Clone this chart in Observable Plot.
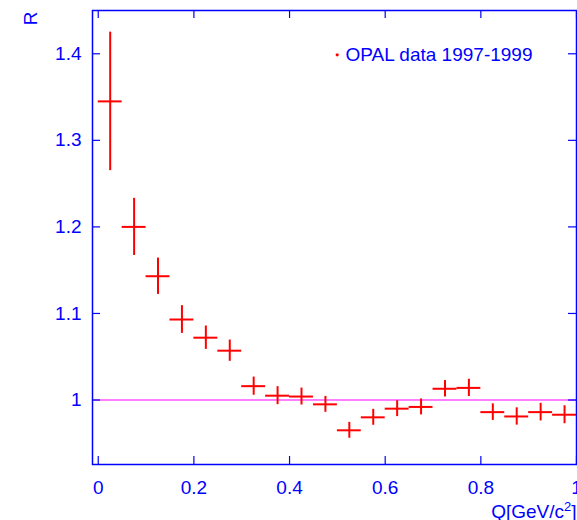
<!DOCTYPE html>
<html><head><meta charset="utf-8">
<script src="https://cdn.jsdelivr.net/npm/d3@7"></script>
<script src="https://cdn.jsdelivr.net/npm/@observablehq/plot@0.6"></script>
<style>body{margin:0;background:#fff;overflow:hidden}</style>
</head><body><div id="chart"></div>
<script>
const binCenters = [0.025,0.075,0.125,0.175,0.225,0.275,0.325,0.375,0.425,0.475,0.525,0.575,0.625,0.675,0.725,0.775,0.825,0.875,0.925,0.975];
const binHalfWidth = 0.025;
const ratioValues = [1.345,1.200,1.143,1.093,1.072,1.057,1.016,1.005,1.004,0.995,0.965,0.980,0.990,0.992,1.013,1.014,0.986,0.981,0.986,0.983];
const ratioErrors = [0.080,0.033,0.021,0.016,0.0135,0.0123,0.0105,0.0104,0.0098,0.0092,0.0092,0.0092,0.0092,0.0092,0.0095,0.0100,0.0096,0.0100,0.0102,0.0104];
const xTicks = [0,0.2,0.4,0.6,0.8,1];
const xTickLabels = ["0","0.2","0.4","0.6","0.8","1"];
const yTicks = [1,1.1,1.2,1.3,1.4];
const yTickLabels = ["1","1.1","1.2","1.3","1.4"];
const legendLabel = "OPAL data 1997-1999";
const xLabelBase = "Q[GeV/c";
const xLabelSup = "2";
const xLabelEnd = "]";
const yLabel = "R";
const referenceLine = [1];

const data = binCenters.map((x, i) => ({x, y: ratioValues[i], e: ratioErrors[i]}));
const xFmt = new Map(xTicks.map((t, i) => [t, xTickLabels[i]]));
const yFmt = new Map(yTicks.map((t, i) => [t, yTickLabels[i]]));

const W = 577, H = 520, mL = 92, mR = 1, mT = 10, mB = 56;
const plotH = H - mT - mB, plotW = W - mL - mR;
const tick = 8;
const blue = "#0000ff";

const chart = Plot.plot({
  width: W, height: H,
  marginLeft: mL, marginRight: mR, marginTop: mT, marginBottom: mB,
  style: {fontFamily: "'Liberation Sans', Arial, sans-serif", fontSize: "19px", color: blue, background: "#fff"},
  x: {domain: [-0.012, 1]},
  y: {domain: [0.9255, 1.45]},
  marks: [
    Plot.ruleY(referenceLine, {stroke: "#ff00ff", strokeWidth: 1.2}),
    Plot.ruleX(data, {x: "x", y1: d => d.y - d.e, y2: d => d.y + d.e, stroke: "red", strokeWidth: 2}),
    Plot.ruleY(data, {y: "y", x1: d => d.x - binHalfWidth, x2: d => d.x + binHalfWidth, stroke: "red", strokeWidth: 2}),
    Plot.axisX(xTicks, {tickSize: 0, tickPadding: 16, tickFormat: d => xFmt.get(d), label: null, fill: blue}),
    Plot.axisY(yTicks, {tickSize: 0, tickPadding: 11, tickFormat: d => yFmt.get(d), label: null, fill: blue}),
    Plot.tickX(xTicks, {x: d => d, insetTop: plotH - tick, stroke: blue, strokeWidth: 1.2}),
    Plot.tickX(xTicks, {x: d => d, insetBottom: plotH - tick, stroke: blue, strokeWidth: 1.2}),
    Plot.tickY(yTicks, {y: d => d, insetRight: plotW - tick, stroke: blue, strokeWidth: 1.2}),
    Plot.tickY(yTicks, {y: d => d, insetLeft: plotW - tick, stroke: blue, strokeWidth: 1.2}),
    Plot.dot([legendLabel], {frameAnchor: "top-left", dx: 244.7, dy: 44.3, r: 1.6, fill: "red", stroke: null}),
    Plot.text([legendLabel], {frameAnchor: "top-left", dx: 253, dy: 44.3, text: d => d, textAnchor: "start", lineAnchor: "middle", fill: blue}),
    Plot.text([yLabel], {frameAnchor: "top-left", dx: -61.5, dy: 8, text: d => d, rotate: -90, textAnchor: "middle", lineAnchor: "middle", fill: blue}),
    Plot.text([xLabelBase + xLabelSup + xLabelEnd], {frameAnchor: "bottom-right", dy: 47.2, text: d => d, textAnchor: "end", lineAnchor: "middle", fill: blue, className: "xlab"}),
    Plot.frame({stroke: blue, strokeWidth: 1.5})
  ]
});
document.getElementById("chart").appendChild(chart);
// superscript for the x-axis title
const xl = chart.querySelector(".xlab text");
if (xl) {
  xl.textContent = xLabelBase;
  const ns = "http://www.w3.org/2000/svg";
  const sup = document.createElementNS(ns, "tspan");
  sup.setAttribute("dy", "-7");
  sup.setAttribute("font-size", "13");
  sup.textContent = xLabelSup;
  const end = document.createElementNS(ns, "tspan");
  end.setAttribute("dy", "7");
  end.textContent = xLabelEnd;
  xl.appendChild(sup);
  xl.appendChild(end);
}
</script>
</body></html>
